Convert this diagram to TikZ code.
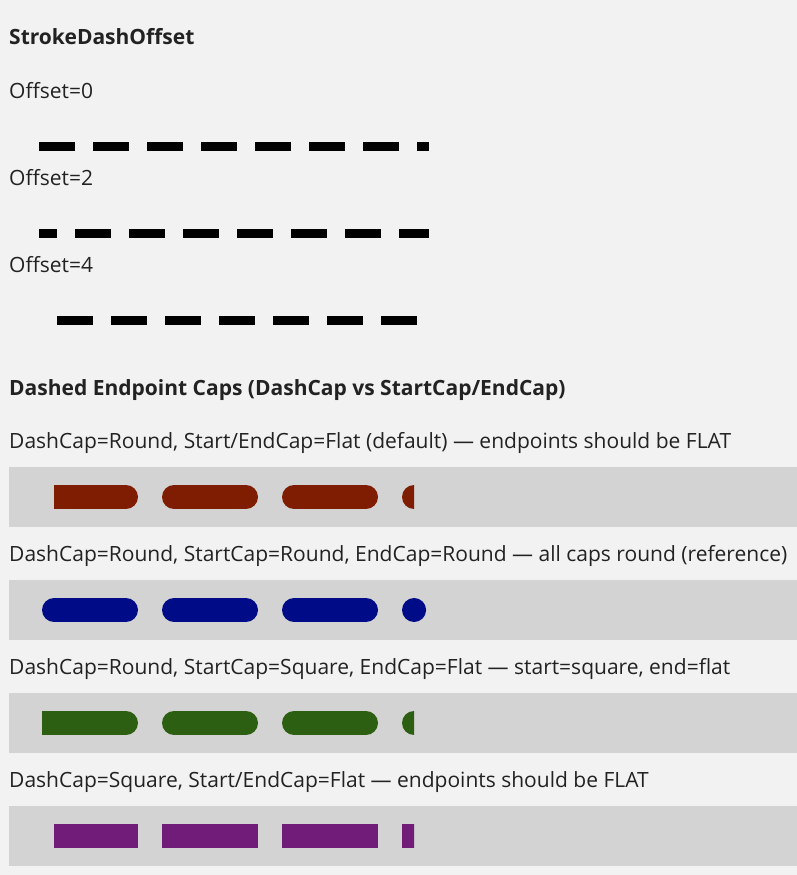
\documentclass[tikz,border=0pt]{standalone}
\usepackage{fontspec}
\setmainfont{Open Sans}
\definecolor{paper}{RGB}{242,242,242}
\definecolor{band}{RGB}{211,211,211}
\definecolor{ink}{RGB}{34,34,34}
\definecolor{rust}{RGB}{126,29,2}
\definecolor{navy}{RGB}{0,12,135}
\definecolor{moss}{RGB}{45,95,18}
\definecolor{plum}{RGB}{114,28,122}
\begin{document}
\begin{tikzpicture}[x=1pt,y=-1pt,
    txt/.style = {anchor=base west, inner sep=0pt, text=ink, font=\fontsize{21}{25}\selectfont},
    head/.style = {txt, font=\fontsize{21}{25}\selectfont\bfseries},
    blackline/.style = {line width=9, dash pattern=on 36 off 18},
    capline/.style = {line width=24, dash pattern=on 72 off 48}]
  \fill[paper] (0,0) rectangle (797,875);
  \useasboundingbox (0,0) rectangle (797,875);

  % StrokeDashOffset
  \node[head] (t1) at (9,45) {StrokeDashOffset};
  \node[txt] (o0) at (9,98.7) {Offset=0};
  \draw[blackline] (39,146.7) -- (429,146.7);
  \node[txt] (o2) at (9,185.7) {Offset=2};
  \draw[blackline, dash phase=18] (39,233.7) -- (429,233.7);
  \node[txt] (o4) at (9,272.3) {Offset=4};
  \draw[blackline, dash phase=36] (39,320.7) -- (429,320.7);

  % caps
  \node[head] (t2) at (9,395) {Dashed Endpoint Caps (DashCap vs StartCap/EndCap)};

  \node[txt] (c1) at (9,448.7) {DashCap=Round, Start/EndCap=Flat (default) — endpoints should be FLAT};
  \fill[band] (9,467) rectangle (797,527);
  \begin{scope}
    \clip (54,480) rectangle (414,514);
    \draw[capline, rust, line cap=round] (54,497) -- (420,497);
  \end{scope}

  \node[txt] (c2) at (9,561.7) {DashCap=Round, StartCap=Round, EndCap=Round — all caps round (reference)};
  \fill[band] (9,580) rectangle (797,640);
  \draw[capline, navy, line cap=round] (54,610) -- (414.1,610);

  \node[txt] (c3) at (9,674.7) {DashCap=Round, StartCap=Square, EndCap=Flat — start=square, end=flat};
  \fill[band] (9,693) rectangle (797,753);
  \begin{scope}
    \clip (42,706) rectangle (414,740);
    \draw[capline, moss, line cap=round] (54,723) -- (420,723);
    \fill[moss] (42,711) rectangle (66,735);
  \end{scope}

  \node[txt] (c4) at (9,787.7) {DashCap=Square, Start/EndCap=Flat — endpoints should be FLAT};
  \fill[band] (9,806) rectangle (797,866);
  \begin{scope}
    \clip (54,819) rectangle (414,853);
    \draw[capline, plum, line cap=rect] (54,836) -- (420,836);
  \end{scope}
\end{tikzpicture}
\end{document}
